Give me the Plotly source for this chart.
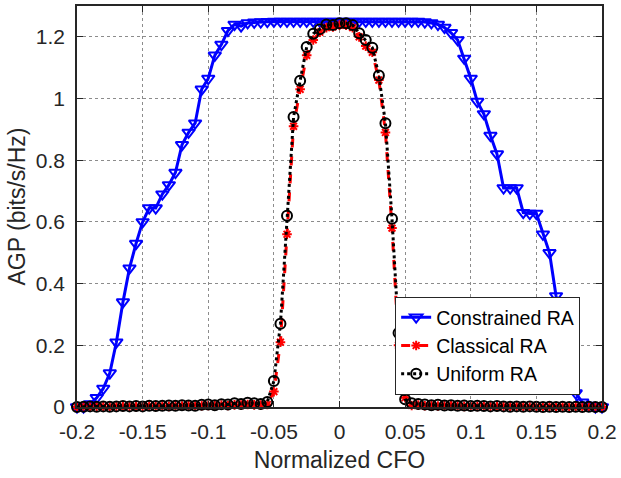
import plotly.graph_objects as go

cfo = [-0.2, -0.195, -0.19, -0.185, -0.18, -0.175, -0.17, -0.165, -0.16, -0.155,
       -0.15, -0.145, -0.14, -0.135, -0.13, -0.125, -0.12, -0.115, -0.11, -0.105,
       -0.1, -0.095, -0.09, -0.085, -0.08, -0.075, -0.07, -0.065, -0.06, -0.055,
       -0.05, -0.045, -0.04, -0.035, -0.03, -0.025, -0.02, -0.015, -0.01, -0.005,
       0.0, 0.005, 0.01, 0.015, 0.02, 0.025, 0.03, 0.035, 0.04, 0.045,
       0.05, 0.055, 0.06, 0.065, 0.07, 0.075, 0.08, 0.085, 0.09, 0.095,
       0.1, 0.105, 0.11, 0.115, 0.12, 0.125, 0.13, 0.135, 0.14, 0.145,
       0.15, 0.155, 0.16, 0.165, 0.17, 0.175, 0.18, 0.185, 0.19, 0.195, 0.2]

constrained_ra = [0.0, 0.0, 0.01, 0.03, 0.06, 0.11, 0.21, 0.34, 0.45, 0.53,
                  0.60, 0.645, 0.645, 0.69, 0.72, 0.76, 0.85, 0.89, 0.92, 1.03,
                  1.065, 1.14, 1.175, 1.22, 1.24, 1.235, 1.245, 1.247, 1.248, 1.249,
                  1.25, 1.25, 1.25, 1.25, 1.25, 1.25, 1.25, 1.25, 1.25, 1.25,
                  1.25, 1.25, 1.25, 1.25, 1.25, 1.25, 1.25, 1.25, 1.25, 1.25,
                  1.25, 1.25, 1.25, 1.248, 1.245, 1.24, 1.23, 1.213, 1.19, 1.13,
                  1.065, 0.99, 0.95, 0.88, 0.82, 0.71, 0.71, 0.71, 0.63, 0.627,
                  0.627, 0.56, 0.50, 0.36, 0.26, 0.15, 0.045, 0.015, 0.005, 0.0, 0.0]

classical_ra = [0.0, 0.001, 0.0, 0.002, 0.001, 0.0, 0.002, 0.001, 0.002, 0.001,
                0.002, 0.003, 0.002, 0.003, 0.002, 0.004, 0.003, 0.005, 0.003, 0.004,
                0.005, 0.004, 0.006, 0.005, 0.007, 0.006, 0.008, 0.007, 0.006, 0.008,
                0.05, 0.21, 0.56, 0.91, 1.03, 1.14, 1.19, 1.215, 1.23, 1.232,
                1.238, 1.238, 1.23, 1.20, 1.17, 1.15, 1.06, 0.89, 0.58, 0.20,
                0.03, 0.005, 0.006, 0.004, 0.005, 0.003, 0.004, 0.005, 0.003, 0.002,
                0.004, 0.002, 0.003, 0.002, 0.001, 0.002, 0.001, 0.002, 0.001, 0.0,
                0.001, 0.0, 0.001, 0.0, 0.001, 0.0, 0.001, 0.0, 0.0, 0.0, 0.0]

uniform_ra = [0.0, 0.001, 0.002, 0.001, 0.002, 0.001, 0.002, 0.003, 0.002, 0.003,
              0.002, 0.004, 0.003, 0.004, 0.005, 0.004, 0.006, 0.005, 0.004, 0.007,
              0.008, 0.006, 0.009, 0.008, 0.012, 0.010, 0.014, 0.012, 0.010, 0.016,
              0.084, 0.27, 0.62, 0.94, 1.058, 1.167, 1.21, 1.225, 1.24, 1.238,
              1.244, 1.244, 1.238, 1.212, 1.19, 1.165, 1.075, 0.92, 0.61, 0.24,
              0.025, 0.012, 0.010, 0.008, 0.006, 0.007, 0.005, 0.006, 0.004, 0.005,
              0.003, 0.004, 0.003, 0.002, 0.003, 0.002, 0.001, 0.002, 0.001, 0.002,
              0.001, 0.0, 0.001, 0.0, 0.001, 0.0, 0.001, 0.0, 0.001, 0.0, 0.0]

x_ticks = [-0.2, -0.15, -0.1, -0.05, 0, 0.05, 0.1, 0.15, 0.2]
x_tick_labels = ["-0.2", "-0.15", "-0.1", "-0.05", "0", "0.05", "0.1", "0.15", "0.2"]
y_ticks = [0, 0.2, 0.4, 0.6, 0.8, 1.0, 1.2]
y_tick_labels = ["0", "0.2", "0.4", "0.6", "0.8", "1", "1.2"]

FONT = "Liberation Sans, Arial, Helvetica, sans-serif"
AX = "#262626"

fig = go.Figure()
fig.add_trace(go.Scatter(
    x=cfo, y=constrained_ra, name="Constrained RA", mode="lines+markers",
    line=dict(color="#0000ff", width=3),
    marker=dict(symbol="triangle-down-open", size=11, color="#0000ff",
                line=dict(width=2, color="#0000ff")),
    cliponaxis=False))
fig.add_trace(go.Scatter(
    x=cfo, y=classical_ra, name="Classical RA", mode="lines+markers",
    line=dict(color="#ff0000", width=3, dash="dash"),
    marker=dict(symbol="asterisk-open", size=8, color="#ff0000",
                line=dict(width=2, color="#ff0000")),
    cliponaxis=False))
fig.add_trace(go.Scatter(
    x=cfo, y=uniform_ra, name="Uniform RA", mode="lines+markers",
    line=dict(color="#000000", width=3, dash="dot"),
    marker=dict(symbol="circle-open", size=10, color="#000000",
                line=dict(width=2, color="#000000")),
    cliponaxis=False))

fig.update_layout(
    width=621, height=478,
    margin=dict(l=77, r=14, t=4, b=71),
    paper_bgcolor="white", plot_bgcolor="white",
    font=dict(family=FONT, size=21, color=AX),
    showlegend=True,
    legend=dict(x=0.606, y=0.03, xanchor="left", yanchor="bottom",
                bgcolor="white", bordercolor="#262626", borderwidth=1,
                font=dict(family=FONT, size=19.5, color="#000000"),
                tracegroupgap=0, itemwidth=30),
)
fig.update_xaxes(
    range=[-0.2, 0.2], tickvals=x_ticks, ticktext=x_tick_labels,
    showgrid=True, gridcolor="#8c8c8c", griddash="dot", gridwidth=1,
    showline=True, linecolor=AX, linewidth=1.5, mirror="allticks",
    ticks="inside", ticklen=6, tickcolor=AX, zeroline=False,
    tickfont=dict(size=21, color=AX), ticklabelstandoff=5,
    ticklabeloverflow="allow",
    title=dict(text="Normalized CFO", font=dict(size=23, color=AX), standoff=10),
)
fig.update_yaxes(
    range=[0, 1.3], tickvals=y_ticks, ticktext=y_tick_labels,
    showgrid=True, gridcolor="#8c8c8c", griddash="dot", gridwidth=1,
    showline=True, linecolor=AX, linewidth=1.5, mirror="allticks",
    ticks="inside", ticklen=6, tickcolor=AX, zeroline=False,
    tickfont=dict(size=21, color=AX), ticklabelstandoff=6,
    ticklabeloverflow="allow",
    title=dict(text="AGP (bits/s/Hz)", font=dict(size=23, color=AX), standoff=4),
)

fig.write_html("out.html")
